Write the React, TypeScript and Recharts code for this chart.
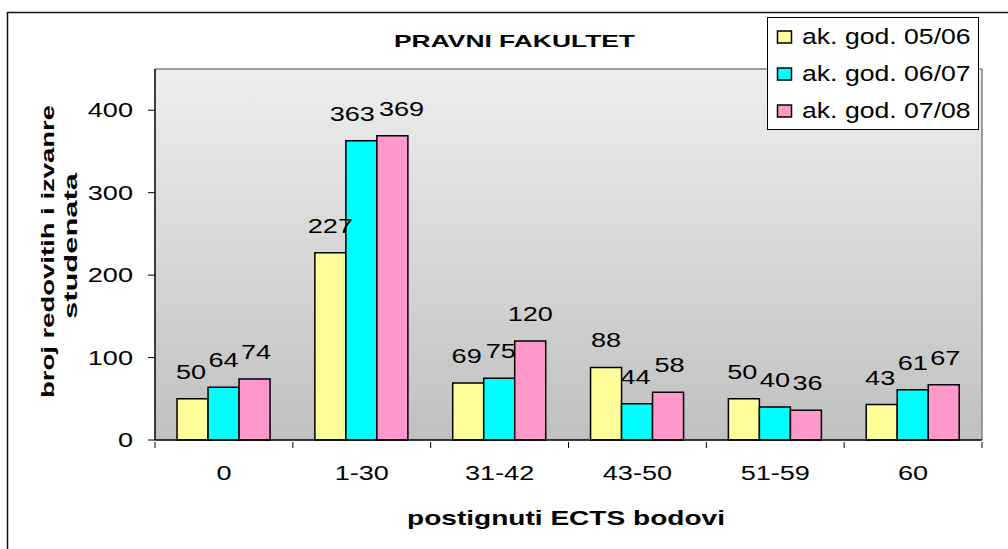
import { Bar, BarChart, CartesianGrid, LabelList, Legend, XAxis, YAxis } from "recharts";

const CATEGORIES = ["0", "1-30", "31-42", "43-50", "51-59", "60"];
const SERIES_NAMES = ["ak. god. 05/06", "ak. god. 06/07", "ak. god. 07/08"];
const SERIES_COLORS = ["#ffff99", "#00ffff", "#ff99cc"];
const Y_0506 = [50, 227, 69, 88, 50, 43];
const Y_0607 = [64, 363, 75, 44, 40, 61];
const Y_0708 = [74, 369, 120, 58, 36, 67];
const Y_TICKS = [0, 100, 200, 300, 400];
const SERIES_VALUES = [Y_0506, Y_0607, Y_0708];
const KEYS = ["s0", "s1", "s2"];

const FONT = "'Liberation Sans', Arial, sans-serif";
const W = 1008;
const H = 549;
const PLOT_LEFT = 155;
const PLOT_RIGHT = 982;
const PLOT_TOP = 69;
const PLOT_BOTTOM = 440;
const STEP = (PLOT_RIGHT - PLOT_LEFT) / CATEGORIES.length;

// the source renders text wide, so numbers get stretched along the baseline
const NUM_SIZE = 21;
const NUM_STRETCH = 1.29;
const DIGIT_W = NUM_SIZE * 0.556 * NUM_STRETCH;

const data = CATEGORIES.map((c, i) => ({
  cat: c,
  s0: Y_0506[i],
  s1: Y_0607[i],
  s2: Y_0708[i],
}));

function NumText({ x, y, anchor, children }: any) {
  return (
    <text
      transform={`translate(${x},${y}) scale(${NUM_STRETCH},1)`}
      textAnchor={anchor}
      fontSize={NUM_SIZE}
      fontFamily={FONT}
      fill="#000"
    >
      {children}
    </text>
  );
}

function XTick(props: any) {
  const { x, y, payload, index } = props;
  const left = x - STEP / 2;
  return (
    <g>
      <line x1={left} y1={y - 6} x2={left} y2={y} stroke="#000" />
      {index === CATEGORIES.length - 1 && (
        <line x1={left + STEP} y1={y - 6} x2={left + STEP} y2={y} stroke="#000" />
      )}
      <NumText x={x} y={y + 32} anchor="middle">
        {payload.value}
      </NumText>
    </g>
  );
}

function YTick(props: any) {
  const { x, y, payload } = props;
  return (
    <NumText x={x} y={y + 7} anchor="end">
      {payload.value}
    </NumText>
  );
}

// nudge neighbouring labels of one category apart when they would collide
function labelShift(s: number, idx: number, pxPerUnit: number, spacing: number) {
  const vals = SERIES_VALUES.map((v) => v[idx]);
  let dx = 0;
  [s - 1, s + 1].forEach((j) => {
    if (j < 0 || j >= vals.length) return;
    const dy = Math.abs(vals[s] - vals[j]) * pxPerUnit;
    if (dy >= 16) return;
    const ws = String(vals[s]).length * DIGIT_W;
    const wj = String(vals[j]).length * DIGIT_W;
    const ov = (ws + wj) / 2 - spacing + 4;
    if (ov > 0) dx += (s < j ? -1 : 1) * (ov / 2);
  });
  return dx;
}

function makeLabel(s: number) {
  return function BarLabel(props: any) {
    const { x, y, width, height, value, index } = props;
    const pxPerUnit = value ? height / value : 0;
    const dx = labelShift(s, index, pxPerUnit, width);
    return (
      <NumText x={x + width / 2 + dx} y={y - 20} anchor="middle">
        {value}
      </NumText>
    );
  };
}

function YLabel() {
  const y1 = 398;
  const x1 = 54;
  const x2 = 77;
  const y2 = 246;
  return (
    <g fontFamily={FONT} fontWeight="bold" fontSize={18} fill="#000">
      <defs>
        <clipPath id="ylabclip">
          <rect x={0} y={106} width={70} height={340} />
        </clipPath>
      </defs>
      <g clipPath="url(#ylabclip)">
        <text
          x={x1}
          y={y1}
          transform={`rotate(-90 ${x1} ${y1})`}
          textAnchor="start"
          textLength={351}
          lengthAdjust="spacingAndGlyphs"
        >
          broj redovitih i izvanrednih
        </text>
      </g>
      <text
        x={x2}
        y={y2}
        transform={`rotate(-90 ${x2} ${y2})`}
        textAnchor="middle"
        textLength={146}
        lengthAdjust="spacingAndGlyphs"
      >
        studenata
      </text>
    </g>
  );
}

function XLabel() {
  return (
    <text
      x={407}
      y={525}
      textAnchor="start"
      fontFamily={FONT}
      fontWeight="bold"
      fontSize={21}
      textLength={318}
      lengthAdjust="spacingAndGlyphs"
      fill="#000"
    >
      postignuti ECTS bodovi
    </text>
  );
}

function LegendBox() {
  return (
    <svg width={212} height={113} style={{ display: "block" }}>
      <rect x={0.5} y={0.5} width={211} height={112} fill="#fff" stroke="#000" strokeWidth={1} />
      {SERIES_NAMES.map((n, i) => {
        const base = 27 + i * 37;
        return (
          <g key={n}>
            <rect x={10.5} y={base - 13} width={14} height={12} fill={SERIES_COLORS[i]} stroke="#000" strokeWidth={1.5} />
            <text
              transform={`translate(35,${base}) scale(1.21,1)`}
              fontFamily={FONT}
              fontSize={22}
              fill="#000"
            >
              {n}
            </text>
          </g>
        );
      })}
    </svg>
  );
}

export default function App() {
  return (
    <div style={{ position: "absolute", left: 0, top: 0, width: W, height: H, background: "#fff", overflow: "hidden" }}>
      <svg width={W} height={H} style={{ position: "absolute", left: 0, top: 0 }}>
        <rect x={7.5} y={12.5} width={W + 10} height={H + 10} fill="none" stroke="#111" strokeWidth={1.5} />
        <text
          x={394}
          y={47}
          fontFamily={FONT}
          fontWeight="bold"
          fontSize={17}
          textLength={241}
          lengthAdjust="spacingAndGlyphs"
          fill="#000"
        >
          PRAVNI FAKULTET
        </text>
      </svg>
      <div style={{ position: "absolute", left: 0, top: 0 }}>
        <BarChart
          width={W}
          height={H}
          data={data}
          margin={{ top: PLOT_TOP, right: W - PLOT_RIGHT, bottom: 0, left: 0 }}
          barCategoryGap="16%"
          barGap={0}
        >
          <defs>
            <linearGradient id="plotbg" x1="0" y1="0" x2="0" y2="1">
              <stop offset="0%" stopColor="#eeeeee" />
              <stop offset="100%" stopColor="#c0c0c0" />
            </linearGradient>
          </defs>
          <CartesianGrid
            fill="url(#plotbg)"
            fillOpacity={1}
            stroke="#808080"
            strokeWidth={1.5}
            horizontalPoints={[PLOT_TOP]}
            verticalPoints={[PLOT_RIGHT]}
          />
          <XAxis
            dataKey="cat"
            height={H - PLOT_BOTTOM}
            axisLine={{ stroke: "#000", strokeWidth: 1.5 }}
            tickLine={false}
            tick={<XTick />}
            interval={0}
            label={<XLabel />}
          />
          <YAxis
            width={PLOT_LEFT}
            domain={[0, 450]}
            ticks={Y_TICKS}
            axisLine={{ stroke: "#000", strokeWidth: 1.5 }}
            tickLine={{ stroke: "#000" }}
            tickSize={7}
            tickMargin={15}
            tick={<YTick />}
            label={<YLabel />}
          />
          <Legend
            layout="vertical"
            align="center"
            verticalAlign="middle"
            wrapperStyle={{ left: 767, top: 17, width: 212, height: 113 }}
            content={<LegendBox />}
          />
          {KEYS.map((k, i) => (
            <Bar
              key={k}
              dataKey={k}
              name={SERIES_NAMES[i]}
              fill={SERIES_COLORS[i]}
              stroke="#000"
              strokeWidth={1.5}
              isAnimationActive={false}
            >
              <LabelList dataKey={k} content={makeLabel(i)} />
            </Bar>
          ))}
        </BarChart>
      </div>
    </div>
  );
}
